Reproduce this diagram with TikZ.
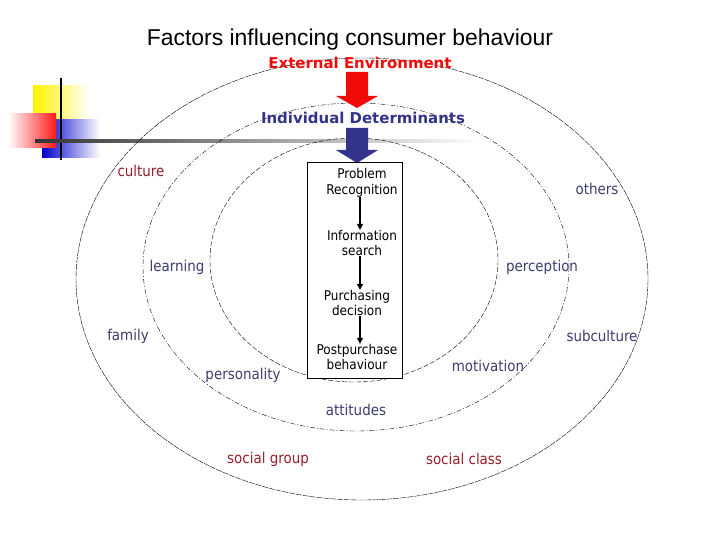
\documentclass[tikz,border=0pt]{standalone}
\usepackage{fontspec}
\setmainfont{DejaVu Sans}
\newfontfamily\titlefont{Liberation Sans}
\newfontfamily\condfont{DejaVu Sans Condensed}
\usetikzlibrary{arrows.meta,calc}
\definecolor{navy}{RGB}{51,51,140}
\definecolor{lab}{RGB}{60,60,110}
\definecolor{darkred}{RGB}{150,30,40}
\definecolor{ared}{RGB}{240,10,10}
\tikzset{
 lbl/.style={text=lab,font=\condfont\fontsize{15}{17}\selectfont,inner sep=0},
 stage/.style={font=\condfont\fontsize{13.5}{15.5}\selectfont,align=center,inner sep=0},
 flow/.style={-{Triangle[length=6,width=6]},line width=1.4}
}
\begin{document}
\begin{tikzpicture}[x=1bp,y=-1bp]
\useasboundingbox (0,0) rectangle (720,540);
% decoration
\shade[left color=yellow!90!orange,right color=white] (33,86) rectangle (90,122);
\shade[left color=blue!80!black,right color=white] (42,120) rectangle (100,158);
\shade[left color=white,right color=red!90] (8,114) rectangle (56,148);
\draw[line width=2] (61,78) -- (61,160);
\shade[left color=black!80,right color=white] (35,139.5) rectangle (480,142.5);
% ellipses
\draw[thin,dash pattern=on 6pt off 1pt] (362,279) ellipse [x radius=286,y radius=221];
\draw[thin,dash pattern=on 5pt off 2pt on 1pt off 2pt] (356,267) ellipse [x radius=213,y radius=164];
\draw[thin,dash pattern=on 5pt off 2pt] (354,260) ellipse [x radius=144,y radius=122];
% title
\node[font=\titlefont\fontsize{23}{26}\selectfont] (title) at (350,40) {Factors influencing consumer behaviour};
\node[text=ared,font=\bfseries\fontsize{15}{18}\selectfont] (ext) at (360,63) {External Environment};
\node[text=navy,font=\bfseries\fontsize{15}{18}\selectfont] (ind) at (363,118) {Individual Determinants};
\coordinate (ra) at (357,72);
\fill[ared] (ra) ++(-11,0) -- ++(22,0) -- ++(0,24) -- ++(10,0) -- (357,108) -- (336,96) -- ++(10,0) -- cycle;
\coordinate (ba) at (357,128);
\fill[navy] (ba) ++(-11,0) -- ++(22,0) -- ++(0,22) -- ++(10,0) -- (357,163) -- (336,150) -- ++(10,0) -- cycle;
% box
\draw[fill=white] (307,162) rectangle (402,378);
\node[stage] (s1) at (362,183) {Problem\\Recognition};
\node[stage] (s2) at (362,243) {Information\\search};
\node[stage] (s3) at (357,303) {Purchasing\\decision};
\node[stage] (s4) at (357,357) {Postpurchase\\behaviour};
\draw[flow] (s1.south -| 360,0) -- (s2.north -| 360,0);
\draw[flow] (s2.south -| 360,0) -- (s3.north -| 360,0);
\draw[flow] (s3.south -| 360,0) -- (s4.north -| 360,0);
% labels
\node[lbl,text=darkred] (culture) at (141,171) {culture};
\node[lbl] (others) at (597,189) {others};
\node[lbl] (learning) at (177,267) {learning};
\node[lbl] (perception) at (542,267) {perception};
\node[lbl] (family) at (128,336) {family};
\node[lbl] (subculture) at (602,336) {subculture};
\node[lbl] (personality) at (243,375) {personality};
\node[lbl] (motivation) at (488,366) {motivation};
\node[lbl] (attitudes) at (356,410) {attitudes};
\node[lbl,text=darkred] (sg) at (268,459) {social group};
\node[lbl,text=darkred] (sc) at (464,459) {social class};
\end{tikzpicture}
\end{document}
